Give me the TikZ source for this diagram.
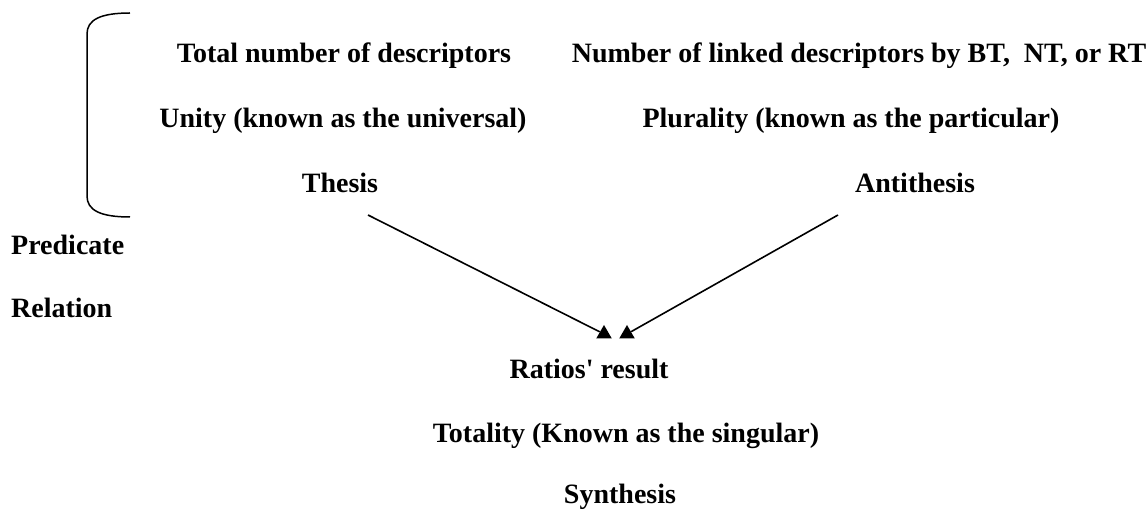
\documentclass[tikz,border=0pt]{standalone}
\usepackage{fontspec}
\setmainfont{Liberation Serif}
\usepackage{tikz}
\usetikzlibrary{positioning,shapes.geometric}

\begin{document}
\begin{tikzpicture}[x=1pt,y=-1pt,font=\fontsize{28}{33}\selectfont\bfseries,
  lbl/.style={inner sep=0pt,anchor=base},
  tipmark/.style={regular polygon,regular polygon sides=3,fill=black,inner sep=0pt,minimum size=18pt},
  link/.style={line width=1.6pt}]
\useasboundingbox (0,0) rectangle (1148,510);
% bracket round the three upper rows
\draw[line width=1.5pt] (130,13) .. controls (100,13) and (87,20) .. (87,34)
  -- (87,196) .. controls (87,210) and (100,217) .. (130,217);
\node[lbl] (total) at (344,63) {Total number of descriptors};
\node[lbl] (linked) at (859,63) {Number of linked descriptors by BT,\ \ NT, or RT};
\node[lbl] (unity) at (343,128) {Unity (known as the universal)};
\node[lbl] (plurality) at (851,128) {Plurality (known as the particular)};
\node[lbl] (thesis) at (340,193) {Thesis};
\node[lbl] (antithesis) at (915,193) {Antithesis};
\node[lbl,anchor=base west] (predicate) at (11,255) {Predicate};
\node[lbl,anchor=base west] (relation) at (11,318) {Relation};
\node[lbl] (ratios) at (589,378) {Ratios\textquotesingle\ result};
\node[lbl] (totality) at (626,442) {Totality (Known as the singular)};
\node[lbl] (synthesis) at (620,503) {Synthesis};
% arrows into the result
\coordinate (thesisfoot) at (368,215);
\coordinate (antifoot) at (838,215);
\node[tipmark] (tipL) at (604,334) {};
\node[tipmark] (tipR) at (627,334) {};
\draw[link] (thesisfoot) -- (tipL);
\draw[link] (antifoot) -- (tipR);
\end{tikzpicture}
\end{document}
